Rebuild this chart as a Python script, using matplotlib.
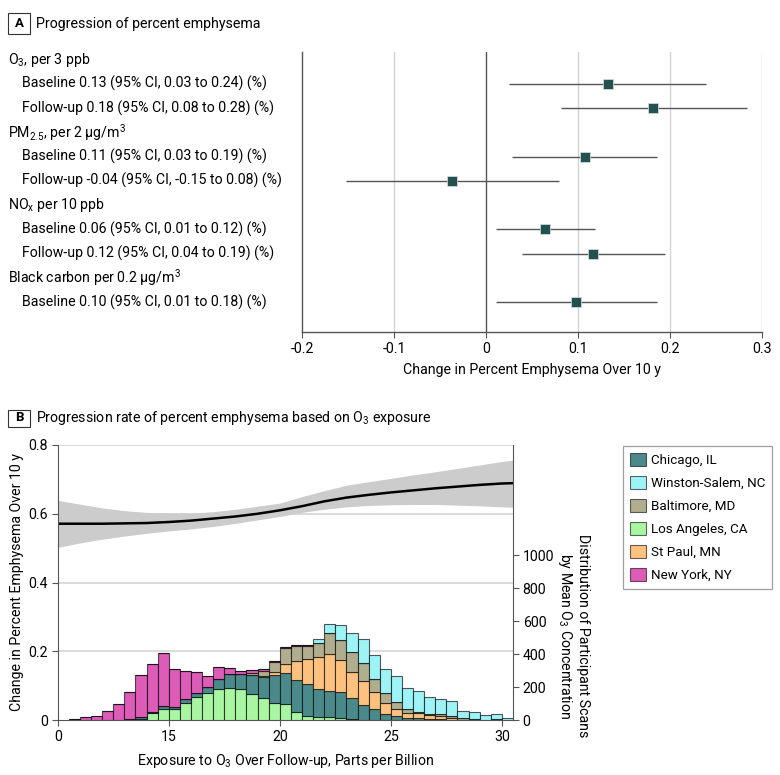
import numpy as np
import matplotlib
matplotlib.use("Agg")
import matplotlib.pyplot as plt
import matplotlib.transforms as mtrans
from matplotlib.patches import Patch, Rectangle

FONT = ['Roboto', 'DejaVu Sans']
plt.rcParams['font.family'] = FONT
plt.rcParams['mathtext.default'] = 'regular'
plt.rcParams['font.size'] = 10

# ---------------- Panel A data ----------------
row_labels = [
    "O$_3$, per 3 ppb",
    "Baseline 0.13 (95% CI, 0.03 to 0.24) (%)",
    "Follow-up 0.18 (95% CI, 0.08 to 0.28) (%)",
    "PM$_{2.5}$, per 2 μg/m$^3$",
    "Baseline 0.11 (95% CI, 0.03 to 0.19) (%)",
    "Follow-up -0.04 (95% CI, -0.15 to 0.08) (%)",
    "NO$_x$ per 10 ppb",
    "Baseline 0.06 (95% CI, 0.01 to 0.12) (%)",
    "Follow-up 0.12 (95% CI, 0.04 to 0.19) (%)",
    "Black carbon per 0.2 μg/m$^3$",
    "Baseline 0.10 (95% CI, 0.01 to 0.18) (%)",
]
row_is_header = [True, False, False, True, False, False, True, False, False, True, False]
est_rows = [1, 2, 4, 5, 7, 8, 10]
est = [0.132, 0.1815, 0.107, -0.037, 0.064, 0.116, 0.097]
ci_lo = [0.025, 0.0815, 0.028, -0.152, 0.011, 0.039, 0.010]
ci_hi = [0.239, 0.283, 0.186, 0.079, 0.118, 0.194, 0.185]
xticks_a = [-0.2, -0.1, 0, 0.1, 0.2, 0.3]
xticklabels_a = ["-0.2", "-0.1", "0", "0.1", "0.2", "0.3"]

# ---------------- Panel B data ----------------
curve_x = [10, 11, 12, 13, 14, 15, 16, 17, 18, 19, 20, 21, 22, 23, 24, 25, 26, 27, 28, 29, 30, 30.5]
curve_fit = [.571, .571, .571, .572, .573, .576, .580, .586, .592, .600, .610, .622, .636, .647, .655,
             .662, .668, .674, .679, .684, .688, .689]
curve_lo = [.502, .515, .526, .535, .543, .550, .556, .563, .572, .582, .592, .604, .613, .620, .624,
            .626, .627, .627, .625, .623, .620, .619]
curve_hi = [.639, .628, .617, .609, .604, .602, .602, .606, .613, .622, .631, .650, .667, .683, .693,
            .703, .713, .722, .732, .742, .752, .756]

bin_left = [10.5, 11.0, 11.5, 12.0, 12.5, 13.0, 13.5, 14.0, 14.5, 15.0, 15.5, 16.0, 16.5, 17.0, 17.5,
            18.0, 18.5, 19.0, 19.5, 20.0, 20.5, 21.0, 21.5, 22.0, 22.5, 23.0, 23.5, 24.0, 24.5, 25.0,
            25.5, 26.0, 26.5, 27.0, 27.5, 28.0, 28.5, 29.0, 29.5, 30.0]
los_angeles = [0, 0, 0, 0, 0, 0, 8, 40, 69, 67, 103, 141, 166, 190, 194, 186, 160, 131, 101, 97, 51, 26,
               20, 16, 14, 6, 3, 0, 0, 0, 0, 0, 0, 0, 0, 0, 0, 0, 0, 0]
chicago = [0, 0, 0, 0, 0, 4, 10, 8, 15, 14, 22, 21, 32, 58, 82, 91, 115, 128, 172, 186, 191, 190, 166,
           162, 154, 125, 86, 65, 34, 26, 10, 10, 8, 4, 2, 0, 0, 0, 2, 0]
st_paul = [0, 0, 0, 0, 0, 0, 0, 0, 0, 0, 0, 0, 0, 0, 0, 0, 0, 6, 20, 56, 117, 152, 194, 222, 196, 162,
           149, 107, 71, 39, 30, 30, 20, 22, 10, 0, 0, 0, 0, 0]
baltimore = [0, 0, 0, 0, 0, 0, 0, 0, 0, 0, 0, 0, 0, 0, 0, 4, 8, 30, 58, 95, 89, 82, 85, 129, 121, 117,
             105, 74, 57, 46, 25, 11, 8, 10, 12, 10, 4, 0, 4, 0]
new_york = [4, 20, 26, 56, 95, 164, 255, 290, 320, 226, 174, 131, 69, 75, 40, 18, 20, 14, 6, 10, 8, 6,
            0, 0, 0, 0, 0, 0, 0, 0, 0, 0, 0, 0, 0, 0, 0, 0, 0, 0]
winston_salem = [0, 0, 0, 0, 0, 0, 0, 0, 0, 0, 0, 0, 0, 0, 0, 0, 0, 0, 0, 0, 0, 0, 24, 53, 93, 119, 148,
                 146, 145, 158, 127, 127, 105, 89, 91, 47, 42, 28, 30, 14]
xticks_b = [10, 15, 20, 25, 30]
xticklabels_b = ["0", "15", "20", "25", "30"]

colors = {
    "Chicago, IL": "#4B8A8A",
    "Winston-Salem, NC": "#9EF3F7",
    "Baltimore, MD": "#B0AE8E",
    "Los Angeles, CA": "#A9F6A2",
    "St Paul, MN": "#FEC27E",
    "New York, NY": "#DC5CB8",
}
stack_order = [("Los Angeles, CA", los_angeles), ("Chicago, IL", chicago), ("St Paul, MN", st_paul),
               ("Baltimore, MD", baltimore), ("New York, NY", new_york),
               ("Winston-Salem, NC", winston_salem)]
legend_order = ["Chicago, IL", "Winston-Salem, NC", "Baltimore, MD", "Los Angeles, CA", "St Paul, MN",
                "New York, NY"]

W, H = 780, 775
fig = plt.figure(figsize=(W / 100, H / 100), dpi=100)

def fx(px):
    return px / W

def fy(py):
    return 1 - py / H

AX_DARK = "#555555"
GRID = "#d4d4d4"
FS = 10.2

# ---------- Panel A ----------
axA = fig.add_axes([fx(302.3), fy(332.3), fx(762.3) - fx(302.3), fy(52.3) - fy(332.3)])
axA.set_xlim(-0.2, 0.3)
axA.set_ylim(11.25, -0.3)
for gx in [-0.1, 0.1, 0.2, 0.3]:
    axA.axvline(gx, color=GRID, lw=1.0, zorder=0)
axA.axvline(0, color=AX_DARK, lw=1.0, zorder=1)
axA.hlines(est_rows, ci_lo, ci_hi, color="#555555", lw=1.0, zorder=2)
axA.plot(est, est_rows, 's', color="#24504F", markersize=7.2, markeredgecolor="#d8e2e2",
         markeredgewidth=0.5, zorder=3)
for s in ["top", "right"]:
    axA.spines[s].set_visible(False)
for s in ["left", "bottom"]:
    axA.spines[s].set_color(AX_DARK)
    axA.spines[s].set_linewidth(1.0)
axA.set_yticks([])
axA.set_xticks(xticks_a)
axA.set_xticklabels(xticklabels_a, fontsize=FS)
axA.tick_params(axis='x', direction='out', length=4, color=AX_DARK, pad=3)
axA.set_xlabel("Change in Percent Emphysema Over 10 y", fontsize=FS, labelpad=5)

trans = mtrans.blended_transform_factory(fig.transFigure, axA.transData)
for i, (lab, hdr) in enumerate(zip(row_labels, row_is_header)):
    axA.text(fx(8) if hdr else fx(22), i, lab, transform=trans, ha='left', va='center',
             fontsize=FS, clip_on=False)

# panel headers
def panel_header(letter, ytop, ybot, title):
    fig.patches.append(Rectangle((fx(8.3), fy(ybot)), fx(30) - fx(8.3), fy(ytop) - fy(ybot),
                                 transform=fig.transFigure, fill=False, edgecolor="#333333", lw=0.8))
    fig.text(fx(19.2), fy((ytop + ybot) / 2), letter, ha='center', va='center', fontsize=9.5,
             fontweight='bold')
    fig.text(fx(36), fy((ytop + ybot) / 2), title, ha='left', va='center', fontsize=FS)

panel_header("A", 13.3, 33.8, "Progression of percent emphysema")
panel_header("B", 409.5, 426.5, "Progression rate of percent emphysema based on O$_3$ exposure")

# ---------- Panel B ----------
axB = fig.add_axes([fx(57.7), fy(720), fx(513) - fx(57.7), fy(445) - fy(720)])
axB.set_xlim(10, 30.5)
axB.set_ylim(0, 0.8)
for gy in [0.2, 0.4, 0.6, 0.8]:
    axB.axhline(gy, color=GRID, lw=1.2, zorder=0)
axB.fill_between(curve_x, curve_lo, curve_hi, color="#cccccc", lw=0, zorder=1)
axB.plot(curve_x, curve_fit, color="black", lw=1.8, zorder=2)
axB.set_yticks([0, 0.2, 0.4, 0.6, 0.8])
axB.set_yticklabels(["0", "0.2", "0.4", "0.6", "0.8"], fontsize=FS)
axB.set_xticks(xticks_b)
axB.set_xticklabels(xticklabels_b, fontsize=FS)
axB.tick_params(direction='out', length=4, color=AX_DARK, pad=3)
for s in ["top", "right"]:
    axB.spines[s].set_visible(False)
for s in ["left", "bottom"]:
    axB.spines[s].set_color(AX_DARK)
axB.set_xlabel("Exposure to O$_3$ Over Follow-up, Parts per Billion", fontsize=FS, labelpad=6)
axB.set_ylabel("Change in Percent Emphysema Over 10 y", fontsize=FS, labelpad=3)

axR = axB.twinx()
axR.set_ylim(0, 1667)
axR.set_xlim(10, 30.5)
bottom = np.zeros(len(bin_left))
for name, vals in stack_order:
    v = np.array(vals, dtype=float)
    axR.bar(bin_left, v, width=0.5, align='edge', bottom=bottom, color=colors[name],
            edgecolor=(0, 0, 0, 0.65), linewidth=0.8, zorder=2)
    bottom = bottom + v
axR.set_yticks([0, 200, 400, 600, 800, 1000])
axR.set_yticklabels(["0", "200", "400", "600", "800", "1000"], fontsize=FS)
axR.tick_params(direction='out', length=4, color=AX_DARK, pad=3)
for s in ["top", "left", "bottom"]:
    axR.spines[s].set_visible(False)
axR.spines["right"].set_color(AX_DARK)
fig.text(fx(573), fy(636), "Distribution of Participant Scans\nby Mean O$_3$ Concentration",
         rotation=270, ha='center', va='center', fontsize=FS, linespacing=1.1)

handles = [Patch(facecolor=colors[n], edgecolor=(0, 0, 0, 0.6), linewidth=0.8, label=n)
           for n in legend_order]
leg = fig.legend(handles=handles, loc='upper right', bbox_to_anchor=(fx(772), fy(446)),
                 bbox_transform=fig.transFigure, frameon=True, fancybox=False, fontsize=9.6,
                 handlelength=1.2, handleheight=1.2, handletextpad=0.4, labelspacing=0.65,
                 borderpad=0.5, borderaxespad=0)
leg.get_frame().set_edgecolor("#888888")
leg.get_frame().set_linewidth(0.9)

fig.savefig("out.png", dpi=100)
